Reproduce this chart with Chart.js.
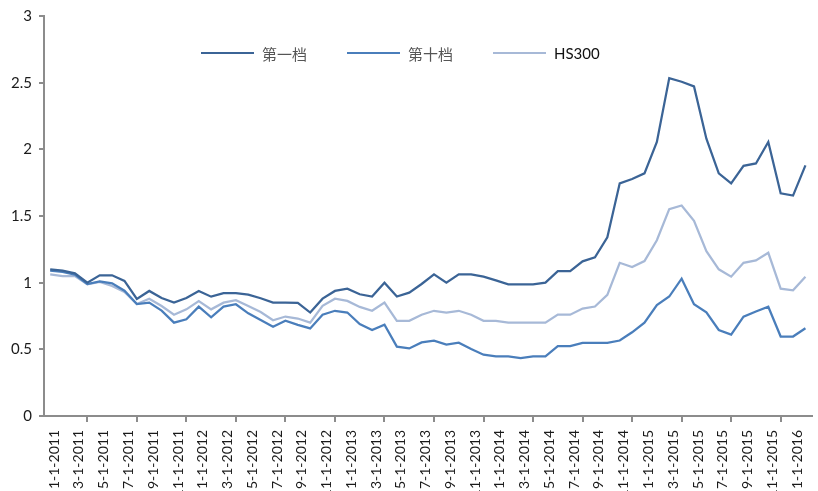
<!DOCTYPE html>
<html>
<head>
<meta charset="utf-8">
<title>第一档 / 第十档 / HS300</title>
<script src="https://cdn.jsdelivr.net/npm/chart.js@4.4.1/dist/chart.umd.min.js"></script>
<style>
  body { margin: 0; background: #fff; }
  #wrap { position: relative; width: 818px; height: 491px; }
  .key { position: absolute; top: 44px; height: 18px; display: flex; align-items: center; white-space: nowrap; }
  .key i { display: inline-block; width: 53px; height: 2px; margin-right: 8px; }
  .key .cn { font-family: "Noto Sans CJK SC", sans-serif; font-size: 15px; color: #555; }
  .key .en { font-family: Lato, sans-serif; font-size: 15px; color: #111; }
</style>
</head>
<body>
<div id="wrap">
  <canvas id="myChart" width="818" height="491"></canvas>
  <div class="key" style="left:201px"><i style="background:#3b6496"></i><span class="cn">第一档</span></div>
  <div class="key" style="left:347px"><i style="background:#4a7ebb"></i><span class="cn">第十档</span></div>
  <div class="key" style="left:493px"><i style="background:#a7b9d7"></i><span class="en">HS300</span></div>
</div>
<script>
// monthly observations, Jan 2011 .. Feb 2016
const months = [
  '1-1-2011', '2-1-2011', '3-1-2011', '4-1-2011', '5-1-2011', '6-1-2011',
  '7-1-2011', '8-1-2011', '9-1-2011', '10-1-2011', '11-1-2011', '12-1-2011',
  '1-1-2012', '2-1-2012', '3-1-2012', '4-1-2012', '5-1-2012', '6-1-2012',
  '7-1-2012', '8-1-2012', '9-1-2012', '10-1-2012', '11-1-2012', '12-1-2012',
  '1-1-2013', '2-1-2013', '3-1-2013', '4-1-2013', '5-1-2013', '6-1-2013',
  '7-1-2013', '8-1-2013', '9-1-2013', '10-1-2013', '11-1-2013', '12-1-2013',
  '1-1-2014', '2-1-2014', '3-1-2014', '4-1-2014', '5-1-2014', '6-1-2014',
  '7-1-2014', '8-1-2014', '9-1-2014', '10-1-2014', '11-1-2014', '12-1-2014',
  '1-1-2015', '2-1-2015', '3-1-2015', '4-1-2015', '5-1-2015', '6-1-2015',
  '7-1-2015', '8-1-2015', '9-1-2015', '10-1-2015', '11-1-2015', '12-1-2015',
  '1-1-2016', '2-1-2016'
];

const top1 = [
  1.10, 1.09, 1.07, 1.00, 1.055, 1.055, 1.013, 0.878, 0.938, 0.885, 0.85, 0.885,
  0.938, 0.895, 0.922, 0.922, 0.91, 0.883, 0.851, 0.851, 0.848, 0.776, 0.88, 0.938,
  0.955, 0.913, 0.896, 1.00, 0.896, 0.925, 0.99, 1.062, 1.00, 1.062, 1.062, 1.045,
  1.017, 0.988, 0.988, 0.988, 1.00, 1.087, 1.087, 1.16, 1.19, 1.34, 1.745, 1.777,
  1.82, 2.055, 2.534, 2.507, 2.472, 2.08, 1.82, 1.745, 1.876, 1.894, 2.055, 1.67,
  1.653, 1.88
];

const top10 = [
  1.09, 1.08, 1.06, 0.99, 1.01, 0.995, 0.94, 0.84, 0.85, 0.79, 0.70, 0.725,
  0.82, 0.74, 0.82, 0.838, 0.77, 0.72, 0.67, 0.714, 0.684, 0.657, 0.759, 0.789,
  0.776, 0.689, 0.644, 0.684, 0.52, 0.507, 0.552, 0.565, 0.535, 0.55, 0.502, 0.46,
  0.448, 0.448, 0.435, 0.448, 0.448, 0.524, 0.524, 0.549, 0.549, 0.549, 0.566, 0.628,
  0.70, 0.832, 0.896, 1.03, 0.839, 0.777, 0.645, 0.61, 0.745, 0.784, 0.819, 0.596,
  0.596, 0.658
];

const hs300 = [
  1.063, 1.05, 1.05, 0.988, 1.005, 0.975, 0.93, 0.84, 0.88, 0.825, 0.76, 0.80,
  0.862, 0.80, 0.85, 0.868, 0.825, 0.78, 0.718, 0.746, 0.731, 0.70, 0.826, 0.88,
  0.863, 0.818, 0.789, 0.851, 0.714, 0.714, 0.759, 0.789, 0.776, 0.789, 0.759, 0.714,
  0.714, 0.70, 0.70, 0.70, 0.70, 0.76, 0.76, 0.806, 0.821, 0.908, 1.149, 1.117,
  1.162, 1.318, 1.551, 1.579, 1.464, 1.236, 1.10, 1.045, 1.149, 1.167, 1.224, 0.955,
  0.943, 1.045
];

const axisGrey = '#8c8c8c';

const line = (label, data, color) => ({
  label: label,
  data: data,
  borderColor: color,
  backgroundColor: color,
  borderWidth: 2.25,
  pointRadius: 0,
  tension: 0,
  fill: false
});

const ctx = document.getElementById('myChart').getContext('2d');
const myChart = new Chart(ctx, {
  type: 'line',
  data: {
    labels: months,
    datasets: [
      line('第一档', top1, '#3b6496'),
      line('第十档', top10, '#4a7ebb'),
      line('HS300', hs300, '#a7b9d7')
    ]
  },
  options: {
    responsive: false,
    animation: false,
    layout: { padding: { top: 12, right: 6, left: 0, bottom: 0 } },
    plugins: {
      legend: { display: false },
      tooltip: { enabled: false }
    },
    scales: {
      x: {
        offset: true,
        border: { color: axisGrey, width: 2 },
        grid: {
          offset: true,
          drawOnChartArea: false,
          tickLength: 6,
          lineWidth: 2,
          // a tick mark every second month
          color: (c) => (c.index % 2 === 0 ? axisGrey : 'rgba(0,0,0,0)')
        },
        ticks: {
          autoSkip: false,
          maxRotation: 90,
          minRotation: 90,
          padding: 8,
          labelOffset: 4,
          color: '#1a1a1a',
          font: { family: 'Lato', size: 14 },
          callback: function (v, i) { return i % 2 === 0 ? months[i] : null; }
        },
        afterFit: (scale) => { scale.height = 75; }
      },
      y: {
        min: 0,
        max: 3,
        border: { color: axisGrey, width: 2 },
        grid: {
          drawOnChartArea: false,
          tickLength: 5,
          lineWidth: 2,
          color: axisGrey
        },
        ticks: {
          stepSize: 0.5,
          padding: 7,
          color: '#1a1a1a',
          font: { family: 'Lato', size: 15 },
          callback: (v) => String(+v.toFixed(1))
        },
        afterFit: (scale) => { scale.width = 44; }
      }
    }
  }
});
</script>
</body>
</html>
